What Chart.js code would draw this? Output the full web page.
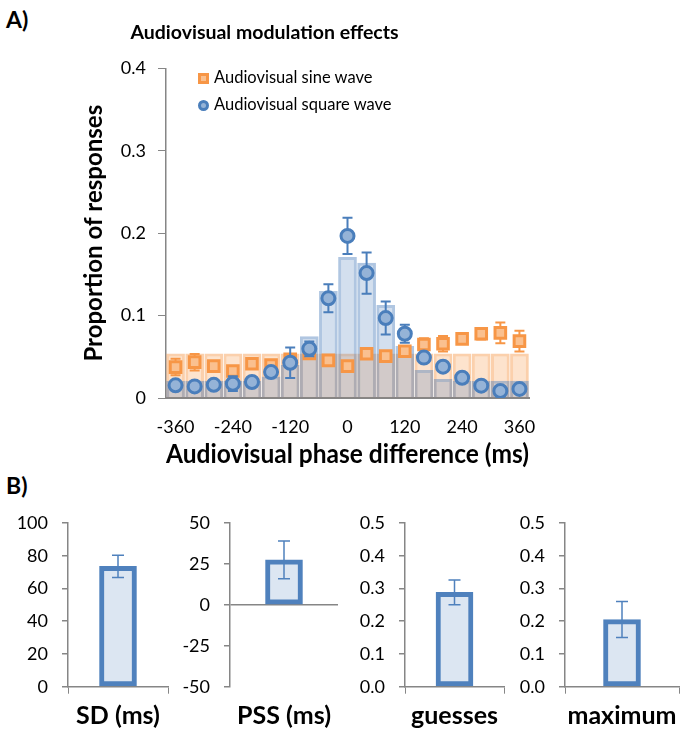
<!DOCTYPE html>
<html>
<head>
<meta charset="utf-8">
<script src="https://cdn.jsdelivr.net/npm/chart.js@4.4.1/dist/chart.umd.min.js"></script>
<style>
  body { margin: 0; background: #fff; font-family: Lato, sans-serif; color: #000; }
  #wrap { position: relative; width: 686px; height: 740px; overflow: hidden; }
  canvas { position: absolute; }
  .panel { position: absolute; font-weight: bold; font-size: 23px; line-height: 1; }
  .leg { position: absolute; left: 198px; font-size: 16.5px; line-height: 20px; white-space: nowrap; }
  .leg i { display: inline-block; box-sizing: border-box; width: 11px; height: 11px; margin-right: 5px; vertical-align: -1px; }
  .leg .sq { background: #fac08f; border: 3px solid #f79646; }
  .leg .ci { background: #95b3d7; border: 3px solid #4a7ebb; border-radius: 50%; }
</style>
</head>
<body>
<div id="wrap">
  <div class="panel" style="left:6px; top:8px;">A)</div>
  <div class="panel" style="left:6px; top:474px;">B)</div>
  <canvas id="top" width="560" height="470" style="left:0; top:0;"></canvas>
  <div class="leg" style="top:67px;"><i class="sq"></i>Audiovisual sine wave</div>
  <div class="leg" style="top:94px;"><i class="ci"></i>Audiovisual square wave</div>
  <canvas id="c0" width="172" height="250" style="left:0; top:490px;"></canvas>
  <canvas id="c1" width="170" height="250" style="left:172px; top:490px;"></canvas>
  <canvas id="c2" width="166" height="250" style="left:342px; top:490px;"></canvas>
  <canvas id="c3" width="175" height="250" style="left:508px; top:490px;"></canvas>
</div>
<script>
// phase difference bins (ms)
const phaseBins = [-360, -320, -280, -240, -200, -160, -120, -80, -40, 0, 40, 80, 120, 160, 200, 240, 280, 320, 360];
// model histograms (bars)
const sineModel = [0.054, 0.054, 0.054, 0.054, 0.054, 0.054, 0.054, 0.054, 0.054, 0.054, 0.054, 0.054, 0.054, 0.054, 0.054, 0.054, 0.054, 0.054, 0.054];
const squareModel = [0.021, 0.021, 0.021, 0.021, 0.021, 0.026, 0.040, 0.075, 0.130, 0.171, 0.164, 0.113, 0.063, 0.034, 0.023, 0.021, 0.021, 0.021, 0.021];
// observed proportions and standard errors
const sineData = [0.0375, 0.0435, 0.0387, 0.0327, 0.0416, 0.040, 0.047, 0.054, 0.0456, 0.0387, 0.0537, 0.0508, 0.0568, 0.065, 0.0658, 0.0718, 0.078, 0.079, 0.069];
const sineErr = [0.010, 0.010, 0.004, 0.006, 0.004, 0.004, 0.005, 0.004, 0.004, 0.003, 0.004, 0.004, 0.004, 0.0075, 0.0095, 0.004, 0.007, 0.0125, 0.0125];
const squareData = [0.0154, 0.0141, 0.016, 0.0174, 0.0194, 0.0315, 0.0428, 0.0597, 0.121, 0.1967, 0.1516, 0.097, 0.078, 0.049, 0.038, 0.0246, 0.015, 0.0085, 0.011];
const squareErr = [0.003, 0.003, 0.003, 0.009, 0.003, 0.003, 0.0185, 0.009, 0.017, 0.022, 0.025, 0.020, 0.011, 0.004, 0.003, 0.003, 0.003, 0.003, 0.003];

// panel B parameters
const paramNames = ["SD (ms)", "PSS (ms)", "guesses", "maximum"];
const paramMeans = [73.5, 27.5, 0.288, 0.205];
const paramErrs = [6.8, 11.5, 0.038, 0.055];
const paramMin = [0, -50, 0, 0];
const paramMax = [100, 50, 0.5, 0.5];
const paramStep = [20, 25, 0.1, 0.1];

const AXIS = "#868686";
const BLUE = "#4a7ebb";
const ORANGE = "#f79646";

// error bars drawn with the chart's own y scale
const errorBars = {
  id: "errorBars",
  beforeDatasetDraw(chart, args) {
    const ds = chart.data.datasets[args.index];
    if (ds.errors && ds.errorsBehind) drawErrors(chart, args.meta, ds);
  },
  afterDatasetDraw(chart, args) {
    const ds = chart.data.datasets[args.index];
    if (ds.errors && !ds.errorsBehind) drawErrors(chart, args.meta, ds);
  }
};
function drawErrors(chart, meta, ds) {
  const ctx = chart.ctx, y = chart.scales.y;
  ctx.save();
  ctx.strokeStyle = ds.errorColor;
  ctx.lineWidth = ds.errorWidth;
  meta.data.forEach((el, i) => {
    const v = ds.data[i], e = ds.errors[i];
    const t = y.getPixelForValue(v + e), b = y.getPixelForValue(v - e), w = ds.capWidth;
    ctx.beginPath();
    ctx.moveTo(el.x, t); ctx.lineTo(el.x, b);
    ctx.moveTo(el.x - w, t); ctx.lineTo(el.x + w, t);
    ctx.moveTo(el.x - w, b); ctx.lineTo(el.x + w, b);
    ctx.stroke();
  });
  ctx.restore();
}

Chart.defaults.font.family = "Lato, sans-serif";
Chart.defaults.color = "#000";

new Chart(document.getElementById("top"), {
  type: "bar",
  data: {
    labels: phaseBins,
    datasets: [
      {
        type: "line", label: "Audiovisual square wave", data: squareData, order: 0,
        showLine: false, pointStyle: "circle", pointRadius: 6.5, borderWidth: 3,
        borderColor: BLUE, backgroundColor: "#95b3d7",
        errors: squareErr, errorsBehind: true, errorColor: BLUE, errorWidth: 2, capWidth: 5
      },
      {
        type: "line", label: "Audiovisual sine wave", data: sineData, order: 1,
        showLine: false, pointStyle: "rect", pointRadius: 7.5, borderWidth: 3,
        borderColor: ORANGE, backgroundColor: "#fac08f",
        errors: sineErr, errorsBehind: true, errorColor: ORANGE, errorWidth: 2, capWidth: 5
      },
      {
        label: "square model", data: squareModel, order: 2, grouped: false,
        backgroundColor: "rgba(79,129,189,0.25)", borderColor: "rgba(79,129,189,0.45)",
        borderWidth: 3, barPercentage: 1, categoryPercentage: 0.98
      },
      {
        label: "sine model", data: sineModel, order: 3, grouped: false,
        backgroundColor: "rgba(247,150,70,0.27)", borderColor: "rgba(247,150,70,0.45)",
        borderWidth: 3, barPercentage: 1, categoryPercentage: 0.98
      }
    ]
  },
  options: {
    responsive: false,
    animation: false,
    layout: { padding: { left: 0, right: 31, top: 0, bottom: 0 } },
    plugins: {
      legend: { display: false },
      tooltip: { enabled: false },
      title: {
        display: true, text: "Audiovisual modulation effects",
        font: { size: 19.5, weight: "bold" }, padding: { top: 21, bottom: 24 }
      }
    },
    scales: {
      x: {
        afterFit: (s) => { s.height = 72; },
        grid: { display: false },
        border: { color: AXIS, width: 2 },
        ticks: {
          autoSkip: false, maxRotation: 0, padding: 10, font: { size: 18 },
          callback: (v, i) => (i % 3 === 0 ? phaseBins[i] : "")
        },
        title: {
          display: true, text: "Audiovisual phase difference (ms)",
          font: { size: 26, weight: "bold" }, padding: { bottom: 0 }
        }
      },
      y: {
        min: 0, max: 0.4,
        afterFit: (s) => { s.width = 166; },
        grid: { drawOnChartArea: false, tickLength: 8, tickColor: AXIS },
        border: { color: AXIS, width: 1.5 },
        ticks: {
          stepSize: 0.1, padding: 12, font: { size: 18 },
          callback: (v) => (v === 0 ? "0" : v.toFixed(1))
        },
        title: {
          display: true, text: "Proportion of responses",
          font: { size: 24, weight: "bold" }, padding: { top: 80 }
        }
      }
    }
  },
  plugins: [errorBars]
});

// panel B: one small bar chart per parameter
const axisWidths = [68, 58, 63, 57];
paramNames.forEach((name, k) => {
  const centered = paramMin[k] < 0;
  new Chart(document.getElementById("c" + k), {
    type: "bar",
    data: {
      labels: [name],
      datasets: [{
        data: [paramMeans[k]],
        backgroundColor: "#dce6f2", borderColor: "#4f81bd", borderWidth: 5,
        borderSkipped: false, barThickness: 37,
        errors: [paramErrs[k]], errorColor: "#4f81bd", errorWidth: 1.5, capWidth: 6
      }]
    },
    options: {
      responsive: false,
      animation: false,
      layout: { padding: { left: 0, right: 4, top: 33, bottom: 0 } },
      plugins: { legend: { display: false }, tooltip: { enabled: false } },
      scales: {
        x: {
          afterFit: (s) => { s.height = 53.3; },
          grid: { display: !centered, drawOnChartArea: false, offset: true, tickLength: 7, color: AXIS },
          border: { display: !centered, color: AXIS, width: 1.5 },
          ticks: { display: false },
          title: { display: true, text: name, font: { size: 25, weight: "bold" }, padding: { bottom: 9 } }
        },
        y: {
          min: paramMin[k], max: paramMax[k],
          afterFit: (s) => { s.width = axisWidths[k]; },
          grid: {
            drawOnChartArea: centered, tickLength: 6, tickColor: AXIS, lineWidth: 1.5,
            color: (c) => (c.tick && c.tick.value === 0 ? AXIS : "rgba(0,0,0,0)")
          },
          border: { color: AXIS, width: 1.5 },
          ticks: {
            stepSize: paramStep[k], padding: 14, font: { size: 18 },
            callback: (v) => (paramStep[k] < 1 ? v.toFixed(1) : v)
          }
        }
      }
    },
    plugins: [errorBars]
  });
});
</script>
</body>
</html>
